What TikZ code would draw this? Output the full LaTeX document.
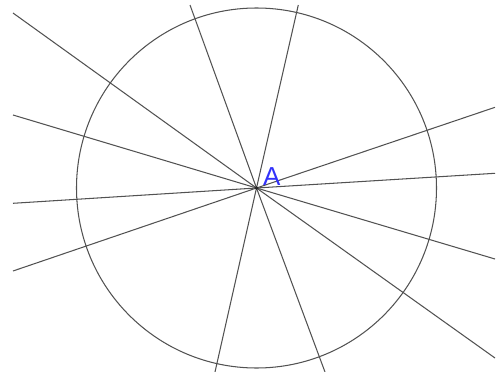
\documentclass[tikz,border=0pt]{standalone}
\usepackage{fontspec}
\setmainfont{Liberation Sans}
\definecolor{lbl}{RGB}{50,50,250}
\tikzset{
  ray/.style={draw=black!68, line width=1.05pt},
  rim/.style={draw=black!68, line width=1.05pt},
}
\begin{document}
\begin{tikzpicture}[x=1pt,y=-1pt]
\useasboundingbox (0,0) rectangle (504,372);
\coordinate (A) at (256.5,188);
% line end points
\coordinate (a1) at (13,13);    \coordinate (b1) at (495,358);
\coordinate (a2) at (13,115);   \coordinate (b2) at (495,259);
\coordinate (a3) at (13,203.3); \coordinate (b3) at (495,173.3);
\coordinate (a4) at (13,271);   \coordinate (b4) at (495,107.3);
\coordinate (a5) at (190,5);    \coordinate (b5) at (325,372);
\coordinate (a6) at (298.3,5);  \coordinate (b6) at (215,372);
\draw[rim] (A) circle[radius=180];
\foreach \i in {1,...,6}{
  \draw[ray] (a\i) -- (A) -- (b\i);
}
\fill[black!85] (A) circle[radius=1.8];
\node[text=lbl, font=\fontsize{26}{26}\selectfont, inner sep=0pt] (lA) at (271.8,176.5) {A};
\end{tikzpicture}
\end{document}
